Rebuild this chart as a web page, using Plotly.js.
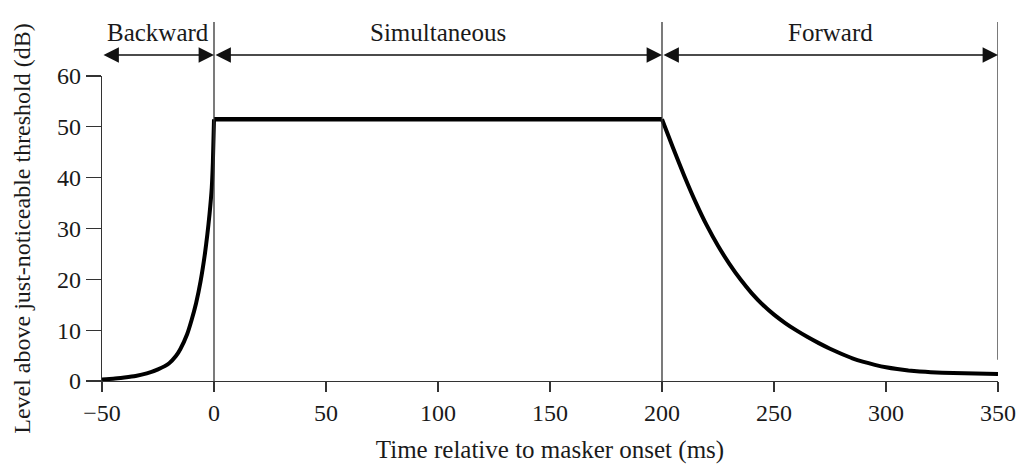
<!DOCTYPE html>
<html>
<head>
<meta charset="utf-8">
<script src="https://cdn.plot.ly/plotly-3.0.1.min.js"></script>
<style>html,body{margin:0;padding:0;background:#fff;}#chart{width:1027px;height:466px;}</style>
</head>
<body>
<div id="chart"></div>
<script>
// Backward masking branch
const backX = [-50, -45, -40, -35, -30, -25, -20, -17, -15, -12, -10, -8, -6, -4, -3, -2, -1, -0.5, 0];
const backY = [0.3, 0.45, 0.7, 1.0, 1.5, 2.3, 3.5, 4.9, 6.3, 9.2, 12.0, 15.3, 19.6, 25.2, 28.7, 32.8, 38.0, 43.0, 51.5];
// Simultaneous masking plateau
const simX = [0, 200];
const simY = [51.5, 51.5];
// Forward masking branch
const fwdX = [200, 205, 210, 215, 220, 225, 230, 235, 240, 245, 250, 255, 260, 265, 270, 275, 280, 285, 290, 295, 300, 305, 310, 315, 320, 330, 340, 350];
const fwdY = [51.5, 45.8, 40.3, 35.2, 30.6, 26.6, 23.1, 20.0, 17.3, 15.0, 13.05, 11.4, 9.95, 8.65, 7.45, 6.35, 5.35, 4.45, 3.75, 3.18, 2.7, 2.35, 2.08, 1.88, 1.74, 1.56, 1.46, 1.4];
// Regions
const regionBounds = [-50, 0, 200, 350];
const regionLabels = ["Backward", "Simultaneous", "Forward"];
// Ticks
const xTicks = [-50, 0, 50, 100, 150, 200, 250, 300, 350];
const yTicks = [0, 10, 20, 30, 40, 50, 60];

const fontFam = '"Liberation Serif", "DejaVu Serif", serif';
const ink = '#1a1a1a';

const traces = [
  {x: backX, y: backY, type: 'scatter', mode: 'lines',
   line: {color: '#000', width: 4, shape: 'spline', smoothing: 0.5}, hoverinfo: 'skip', cliponaxis: false},
  {x: simX, y: simY, type: 'scatter', mode: 'lines',
   line: {color: '#000', width: 4.5}, hoverinfo: 'skip', cliponaxis: false},
  {x: fwdX, y: fwdY, type: 'scatter', mode: 'lines',
   line: {color: '#000', width: 4, shape: 'spline', smoothing: 0.5}, hoverinfo: 'skip', cliponaxis: false}
];

const shapes = [];
[regionBounds[1], regionBounds[2]].forEach(b => {
  shapes.push({type: 'line', xref: 'x', yref: 'paper', x0: b, x1: b, y0: 0, y1: 1.177,
    line: {color: '#333', width: 1.3}});
});
shapes.push({type: 'line', xref: 'x', yref: 'paper', x0: regionBounds[3], x1: regionBounds[3], y0: 0.07, y1: 1.177,
  line: {color: '#333', width: 1.3}});

const annotations = [];
for (let i = 0; i < regionLabels.length; i++) {
  const a = regionBounds[i], b = regionBounds[i + 1];
  annotations.push({
    x: (a + b) / 2, y: 1.143, xref: 'x', yref: 'paper', text: regionLabels[i], showarrow: false,
    font: {family: fontFam, size: 25, color: ink}, yanchor: 'middle'
  });
  annotations.push({
    x: b, y: 1.069, xref: 'x', yref: 'paper', ax: a, ay: 0, axref: 'x', ayref: 'pixel',
    text: '', showarrow: true, arrowhead: 2, arrowside: 'end+start', arrowsize: 2.2,
    arrowwidth: 1.4, arrowcolor: '#111', standoff: 0, startstandoff: 0
  });
}

const layout = {
  width: 1027, height: 466,
  margin: {l: 102, r: 29, t: 76, b: 85},
  paper_bgcolor: '#fff', plot_bgcolor: '#fff',
  showlegend: false,
  font: {family: fontFam, size: 24, color: ink},
  xaxis: {
    range: [-50, 350], tickvals: xTicks, ticks: 'outside', ticklen: 10, tickwidth: 1.3, tickcolor: '#333',
    showline: true, linecolor: '#333', linewidth: 1.3, showgrid: false, zeroline: false,
    tickfont: {family: fontFam, size: 24, color: ink},
    title: {text: 'Time relative to masker onset (ms)', font: {family: fontFam, size: 25, color: ink}, standoff: 15}
  },
  yaxis: {
    range: [0, 60], tickvals: yTicks, ticks: 'outside', ticklen: 15, tickwidth: 1.3, tickcolor: '#333',
    showline: true, linecolor: '#333', linewidth: 1.3, showgrid: false, zeroline: false,
    tickfont: {family: fontFam, size: 24, color: ink},
    title: {text: 'Level above just-noticeable threshold (dB)', font: {family: fontFam, size: 24, color: ink}, standoff: 19}
  },
  shapes: shapes,
  annotations: annotations
};

Plotly.newPlot('chart', traces, layout, {displayModeBar: false, staticPlot: true});
</script>
</body>
</html>
